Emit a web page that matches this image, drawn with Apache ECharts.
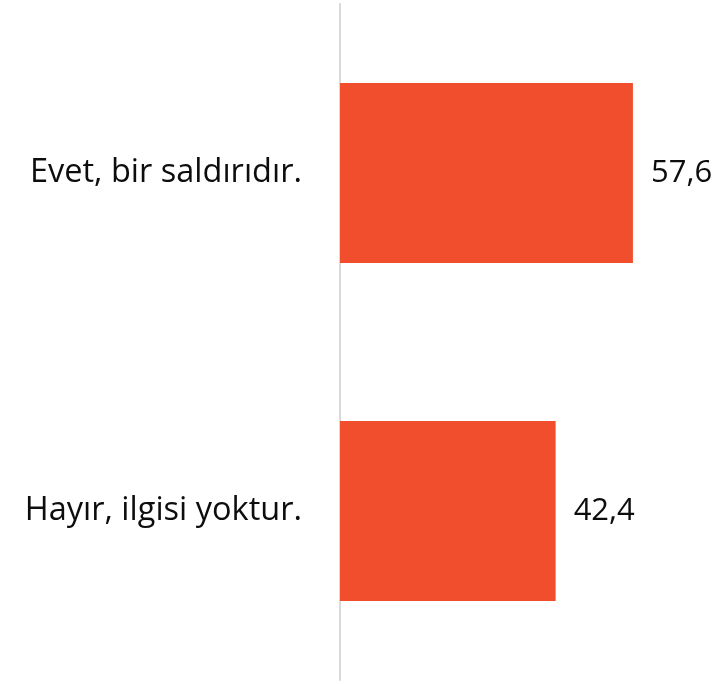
<!DOCTYPE html>
<html><head><meta charset="utf-8">
<script src="https://cdn.jsdelivr.net/npm/echarts@6/dist/echarts.min.js"></script>
<style>html,body{margin:0;padding:0;background:#fff}#c{width:716px;height:684px}</style>
</head><body><div id="c"></div>
<script>
const categories = ["Evet, bir saldırıdır.", "Hayır, ilgisi yoktur."];
const values = [57.6, 42.4];
const labels = ["57,6", "42,4"];

const chart = echarts.init(document.getElementById('c'));
chart.setOption({
  animation: false,
  grid: {left: 340, right: 20, top: 4, bottom: 4, containLabel: false},
  xAxis: {type: 'value', min: 0, max: 70, show: false},
  yAxis: {
    type: 'category', data: categories, inverse: true,
    axisLine: {show: true, lineStyle: {color: '#d9d9d9', width: 2}},
    axisTick: {show: false},
    axisLabel: {color: '#0d0d0d', fontFamily: 'Open Sans', fontSize: 32.5, margin: 38}
  },
  series: [{
    type: 'bar', barWidth: 180,
    data: values,
    itemStyle: {color: '#f04e2c'},
    label: {show: true, position: 'right', distance: 18, color: '#0d0d0d', fontFamily: 'Open Sans', fontSize: 31,
      formatter: p => labels[p.dataIndex]}
  }]
});
</script></body></html>
